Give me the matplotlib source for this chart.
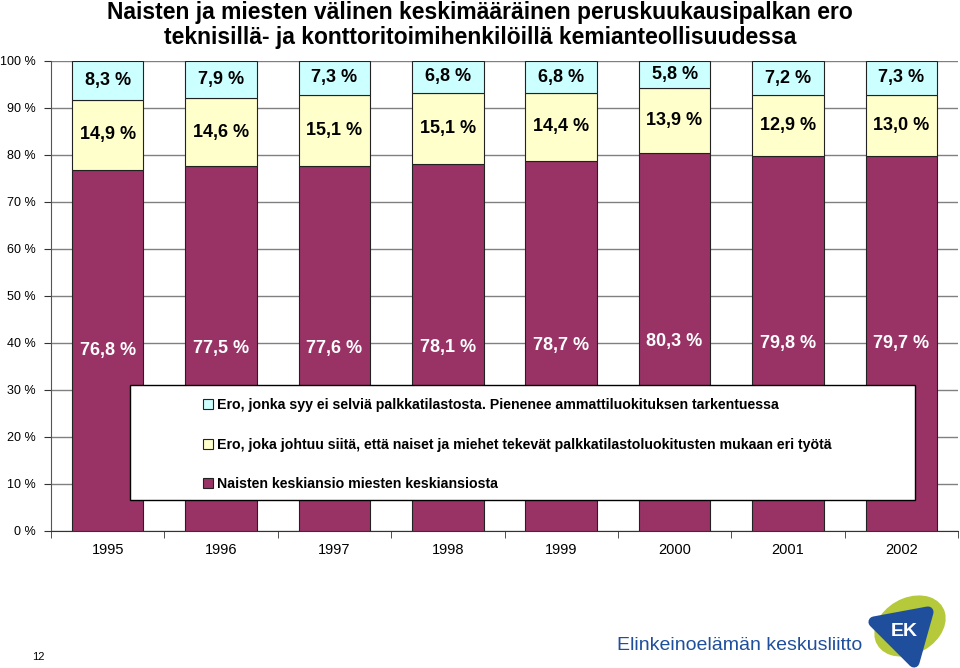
import matplotlib.pyplot as plt
from matplotlib.patches import Rectangle, Ellipse, Polygon
import numpy as np

years = ['1995', '1996', '1997', '1998', '1999', '2000', '2001', '2002']
naisten_osuus = [76.8, 77.5, 77.6, 78.1, 78.7, 80.3, 79.8, 79.7]
ero_tyo = [14.9, 14.6, 15.1, 15.1, 14.4, 13.9, 12.9, 13.0]
ero_selittamaton = [8.3, 7.9, 7.3, 6.8, 6.8, 5.8, 7.2, 7.3]

labels = [
    'Ero, jonka syy ei selviä palkkatilastosta. Pienenee ammattiluokituksen tarkentuessa',
    'Ero, joka johtuu siitä, että naiset ja miehet tekevät palkkatilastoluokitusten mukaan eri työtä',
    'Naisten keskiansio miesten keskiansiosta',
]

MAROON = '#993366'
YELLOW = '#FFFFCC'
CYAN = '#CCFFFF'
SANS = ['Liberation Sans', 'DejaVu Sans']

plt.rcParams['font.family'] = SANS

fig = plt.figure(figsize=(9.6, 6.68), dpi=100)
ax = fig.add_axes([51 / 960, 1 - 530.7 / 668, 907 / 960, 470 / 668])

x = np.arange(len(years))
w = 0.63
a = np.array(naisten_osuus)
b = np.array(ero_tyo)
c = np.array(ero_selittamaton)

ekw = dict(edgecolor='#222222', linewidth=0.8, zorder=3)
b1 = ax.bar(x, a, w, color=MAROON, label=labels[2], **ekw)
b2 = ax.bar(x, b, w, bottom=a, color=YELLOW, label=labels[1], **ekw)
b3 = ax.bar(x, c, w, bottom=a + b, color=CYAN, label=labels[0], **ekw)


def pct(v):
    return f'{v:.1f} %'.replace('.', ',')


for i in range(len(years)):
    ax.text(x[i], a[i] / 2, pct(a[i]), ha='center', va='center',
            color='white', fontsize=13, fontweight='bold', zorder=4)
    ax.text(x[i], a[i] + b[i] / 2, pct(b[i]), ha='center', va='center',
            color='black', fontsize=13, fontweight='bold', zorder=4)
    ax.text(x[i], a[i] + b[i] + c[i] / 2, pct(c[i]), ha='center', va='center',
            color='black', fontsize=13, fontweight='bold', zorder=4)

ax.set_xlim(-0.5, len(years) - 0.5)
ax.set_ylim(0, 100)
ax.set_yticks(range(0, 101, 10))
ax.set_yticklabels([f'{v} %' for v in range(0, 101, 10)], fontsize=9)
ax.set_xticks(x)
ax.set_xticklabels(years, fontsize=10.5)
ax.set_xticks(np.arange(-0.5, len(years)), minor=True)
ax.tick_params(axis='x', which='major', length=0, pad=9)
ax.tick_params(axis='x', which='minor', length=5, direction='out', color='#333333')
ax.tick_params(axis='y', length=5, direction='out', color='#333333', pad=6)
ax.yaxis.grid(True, color='#808080', linewidth=1)
ax.set_axisbelow(True)
for s in ['top', 'right']:
    ax.spines[s].set_visible(False)
ax.spines['left'].set_color('#555555')
ax.spines['bottom'].set_color('#333333')

# legend box
fig.patches.append(Rectangle((130 / 960, 1 - 500 / 668), 785 / 960, 115 / 668,
                             transform=fig.transFigure, facecolor='white',
                             edgecolor='black', linewidth=1, zorder=5))
leg = fig.legend(handles=[b3, b2, b1], labels=labels, loc='upper left',
                 bbox_to_anchor=(196 / 960, 1 - 391 / 668), frameon=False,
                 handlelength=0.7, handleheight=0.7, handletextpad=0.3,
                 labelspacing=1.8, borderpad=0,
                 prop={'size': 10.2, 'weight': 'bold', 'family': SANS})
leg.set_zorder(6)

fig.text(0.5, 1 - 25 / 668,
         'Naisten ja miesten välinen keskimääräinen peruskuukausipalkan ero\n'
         'teknisillä- ja konttoritoimihenkilöillä kemianteollisuudessa',
         ha='center', va='center', fontsize=16.5, fontweight='bold',
         linespacing=1.1)

fig.text(38 / 960, 1 - 657 / 668, '12', ha='center', va='center', fontsize=8)

# logo
fig.text(617 / 960, 1 - 645 / 668, 'Elinkeinoelämän keskusliitto', ha='left', va='center',
         fontsize=14, color='#1f4f9c')
fig.patches.append(Ellipse((910 / 960, 1 - 626 / 668), 66 / 960, 64 / 668, angle=-25,
                           transform=fig.transFigure, facecolor='#b5c93a', edgecolor='none'))
fig.patches.append(Polygon([(874 / 960, 1 - 622 / 668), (928 / 960, 1 - 612 / 668),
                            (914 / 960, 1 - 662 / 668)], closed=True,
                           transform=fig.transFigure, facecolor='#1f4f9c', edgecolor='#1f4f9c',
                           linewidth=8, joinstyle='round'))
fig.text(904 / 960, 1 - 632 / 668, 'EK', ha='center', va='center', fontsize=14,
         fontweight='bold', color='white')

fig.savefig('out.png', dpi=100)
